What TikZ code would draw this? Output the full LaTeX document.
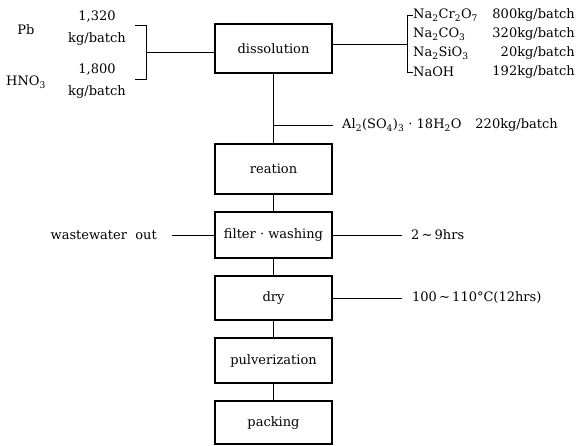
\documentclass[tikz,border=0pt]{standalone}
\usepackage{fontspec}
\setmainfont{DejaVu Serif}
\usetikzlibrary{positioning}

\begin{document}
\begin{tikzpicture}[x=1pt,y=-1pt,
  font=\fontsize{13}{15}\selectfont,
  proc/.style={draw,line width=1.2pt,minimum width=117pt,inner sep=0pt},
  lbl/.style={inner sep=0pt},
  wire/.style={line width=0.6pt}]
\useasboundingbox (0,0) rectangle (577,445);
% process column
\node[proc,minimum height=49pt] (dis) at (273.5,48.5) {dissolution};
\node[proc,minimum height=50pt] (rea) at (273.5,169) {reation};
\node[proc,minimum height=46pt] (fil) at (273.5,235) {filter · washing};
\node[proc,minimum height=44pt] (dry) at (273.5,298) {dry};
\node[proc,minimum height=45pt] (pul) at (273.5,360.5) {pulverization};
\node[proc,minimum height=43pt] (pac) at (273.5,422.5) {packing};
% left inputs
\node[lbl] (pb) at (26,30) {Pb};
\node[lbl] (hno) at (26,82) {HNO\textsubscript{3}};
\node[lbl] (q1) at (97,17) {1,320};
\node[lbl] (u1) at (97,39) {kg/batch};
\node[lbl] (q2) at (97,70) {1,800};
\node[lbl] (u2) at (97,92) {kg/batch};
\coordinate (lt) at (146,25);
\coordinate (lb) at (146,79);
\coordinate (lm) at (146,52);
\draw[wire] (135,25) -- (lt) -- (lb) -- (135,79);
\draw[wire] (lm) -- (lm -| dis.west);
% right inputs
\node[lbl,anchor=west] (na1) at (413,15) {Na\textsubscript{2}Cr\textsubscript{2}O\textsubscript{7}};
\node[lbl,anchor=west] (na2) at (413,34) {Na\textsubscript{2}CO\textsubscript{3}};
\node[lbl,anchor=west] (na3) at (413,53) {Na\textsubscript{2}SiO\textsubscript{3}};
\node[lbl,anchor=west] (na4) at (413,72) {NaOH};
\node[lbl,anchor=east] (m1) at (575,15) {800kg/batch};
\node[lbl,anchor=east] (m2) at (575,34) {320kg/batch};
\node[lbl,anchor=east] (m3) at (575,53) {20kg/batch};
\node[lbl,anchor=east] (m4) at (575,72) {192kg/batch};
\coordinate (rt) at (407,15);
\coordinate (rb) at (407,72);
\coordinate (rm) at (407,44);
\draw[wire] (na1.west) -- (rt) -- (rb) -- (na4.west);
\draw[wire] (rm -| dis.east) -- (rm);
% alum
\coordinate (aj) at (273.5,125);
\node[lbl,anchor=west] (al) at (342,125) {Al\textsubscript{2}(SO\textsubscript{4})\textsubscript{3} · 18H\textsubscript{2}O};
\node[lbl,anchor=east] (m5) at (558,125) {220kg/batch};
\draw[wire] (aj) -- ([xshift=-9pt]al.west);
% side notes
\node[lbl,anchor=east] (ww) at (157,235) {wastewater\ \ out};
\draw[wire] ([xshift=15pt]ww.east) -- (fil.west);
\node[lbl,anchor=west] (t1) at (411,235) {2\,\textasciitilde\,9hrs};
\draw[wire] (fil.east) -- ([xshift=-9pt]t1.west);
\node[lbl,anchor=west] (t2) at (412,298) {100\,\textasciitilde\,110°C(12hrs)};
\draw[wire] (dry.east) -- ([xshift=-10pt]t2.west);
% column links
\draw[wire] (dis) -- (rea);
\draw[wire] (rea) -- (fil);
\draw[wire] (fil) -- (dry);
\draw[wire] (dry) -- (pul);
\draw[wire] (pul) -- (pac);
\end{tikzpicture}
\end{document}
